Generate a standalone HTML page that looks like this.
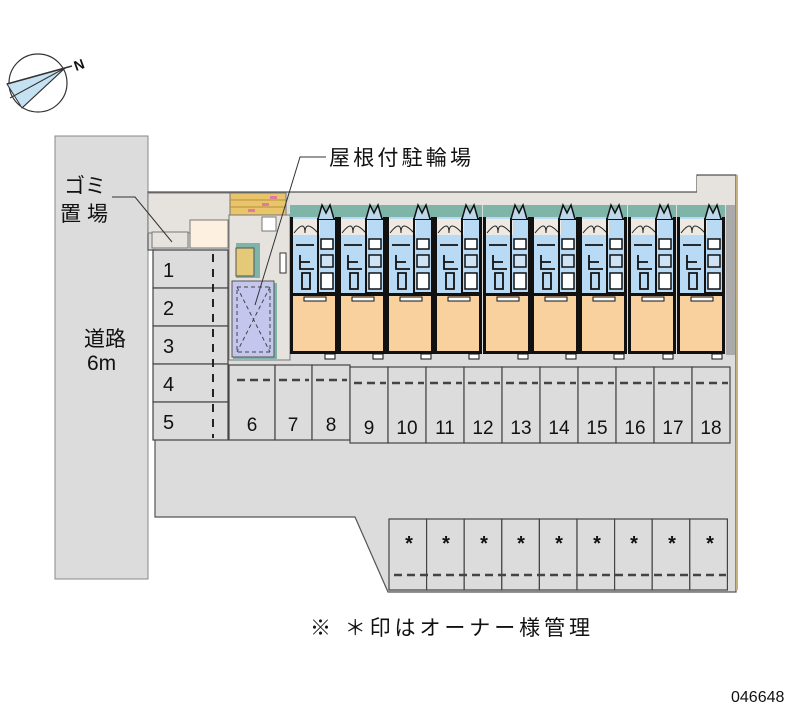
<!DOCTYPE html>
<html><head><meta charset="utf-8"><style>
html,body{margin:0;padding:0;background:#fff;}
svg{display:block;}
text{font-family:"Liberation Sans","Noto Sans CJK JP",sans-serif;fill:#111;}
</style></head><body>
<svg width="800" height="727" viewBox="0 0 800 727" xmlns="http://www.w3.org/2000/svg">
<defs>
<g id="unit">
  <rect x="0" y="0" width="48" height="12" fill="#7fb5a8"/>
  <rect x="0" y="12" width="48" height="80" fill="#b8daf5"/>
  <rect x="1" y="14" width="29" height="16" fill="#eeeae2"/>
  <path d="M4 28 Q15 14 15 28 Q15 14 28 28" fill="none" stroke="#222" stroke-width="1"/>
  <rect x="28" y="14" width="18" height="74" fill="none" stroke="#111" stroke-width="2"/>
  <rect x="31" y="34" width="12" height="10" fill="#fff" stroke="#111" stroke-width="1.5"/>
  <rect x="31" y="50" width="12" height="12" fill="#cfe3f5" stroke="#111" stroke-width="1.5"/>
  <rect x="31" y="68" width="12" height="16" fill="#fff" stroke="#111" stroke-width="1.5"/>
  <path d="M6 40 H24 M10 50 V64 H24 M10 57 H20 M12 68 H20 V84 H12 Z" stroke="#111" stroke-width="1.8" fill="none"/>
  <path d="M28 14 L32 0 L36 8 L40 0 L44 14" fill="#bcd8ea" stroke="#111" stroke-width="1.5"/>
  <rect x="0" y="88" width="48" height="3" fill="#111"/>
  <rect x="2" y="91" width="44" height="56" fill="#f9d19e"/>
  <rect x="14" y="92" width="22" height="4" fill="#fff" stroke="#111" stroke-width="1"/>
  <rect x="0" y="12" width="3" height="137" fill="#111"/>
  <rect x="45" y="12" width="3" height="137" fill="#111"/>
  <rect x="0" y="146" width="48" height="3" fill="#111"/>
  <rect x="35" y="149" width="10" height="5" fill="#fff" stroke="#111" stroke-width="1"/>
</g>
</defs>

<!-- compass -->
<circle cx="38" cy="83" r="29" fill="none" stroke="#333" stroke-width="1.2"/>
<polygon points="7,84 65,68 22,108" fill="#c5e2f3" stroke="#333" stroke-width="1"/>
<line x1="7" y1="84" x2="72" y2="66" stroke="#333" stroke-width="1.5"/>
<line x1="22" y1="108" x2="65" y2="68" stroke="#333"/>
<line x1="10" y1="98" x2="65" y2="68" stroke="#333"/>
<text x="74" y="70" font-size="14" font-weight="bold" transform="rotate(-20 78 65)">N</text>

<!-- road -->
<rect x="55" y="136" width="93" height="443" fill="#dcdcdc" stroke="#888" stroke-width="1"/>
<text x="84" y="346" font-size="21" textLength="42">道路</text>
<text x="87" y="370" font-size="21">6m</text>
<rect x="60" y="170" width="54" height="52" fill="#dcdcdc"/>
<text x="64" y="193" font-size="21">ゴミ</text>
<text x="60" y="221" font-size="21" textLength="48">置場</text>

<!-- lot -->
<polygon points="148,192 697,192 697,175 736,175 736,592 388,592 355,517 155,517 155,250 148,250" fill="#dcdcdc" stroke="#555" stroke-width="1.2"/>
<line x1="737" y1="175" x2="737" y2="590" stroke="#c9b080" stroke-width="2"/>
<rect x="148" y="193" width="82" height="40" fill="#e6e3de" stroke="#777" stroke-width="1"/>
<rect x="152" y="232" width="36" height="16" fill="#e6e3de" stroke="#777" stroke-width="1"/>
<rect x="190" y="220" width="38" height="28" fill="#fdf0e0" stroke="#777" stroke-width="1"/>
<rect x="229" y="215" width="61" height="145" fill="#e6e3de" stroke="#777" stroke-width="1"/>
<rect x="697" y="176" width="38" height="30" fill="#e6e3de"/>
<rect x="290" y="193" width="407" height="12" fill="#e6e3de"/>
<polyline points="112,197 135,197 172,242" fill="none" stroke="#333" stroke-width="1"/>

<!-- brick -->
<rect x="230" y="193" width="56" height="22" fill="#e8c46a" stroke="#777" stroke-width="1"/>
<path d="M230 200 H286 M230 207 H286" stroke="#b8903a" stroke-width="1"/>
<rect x="262" y="203" width="7" height="3" fill="#e07aa0"/><rect x="248" y="209" width="7" height="3" fill="#e07aa0"/><rect x="270" y="196" width="7" height="3" fill="#e07aa0"/>
<rect x="262" y="217" width="14" height="14" fill="#fff" stroke="#777"/>

<!-- bike -->
<rect x="236" y="243" width="24" height="35" fill="#7fb5a8"/>
<rect x="236" y="248" width="18" height="28" fill="#e4c978" stroke="#555" stroke-width="1"/>
<rect x="233" y="283" width="44" height="76" fill="#7fb5a8"/>
<rect x="232" y="281" width="42" height="76" fill="#c4c6ee" stroke="#555" stroke-width="1"/>
<path d="M237 287 H270 V352 H237 Z M237 287 L270 352 M270 287 L237 352" fill="none" stroke="#444" stroke-width="1" stroke-dasharray="4,3"/>
<rect x="280" y="253" width="6" height="20" fill="#fff" stroke="#333"/>

<!-- building -->
<g>
<use href="#unit" x="290" y="205"/>
<use href="#unit" x="338" y="205"/>
<use href="#unit" x="386" y="205"/>
<use href="#unit" x="434" y="205"/>
<use href="#unit" x="483" y="205"/>
<use href="#unit" x="531" y="205"/>
<use href="#unit" x="579" y="205"/>
<use href="#unit" x="628" y="205"/>
<use href="#unit" x="677" y="205"/>
</g>
<rect x="726" y="205" width="9" height="150" fill="#aaa"/>

<!-- label leader -->
<polyline points="326,157 300,157 255,305" fill="none" stroke="#333" stroke-width="1"/>
<text x="329" y="165" font-size="21" textLength="142">屋根付駐輪場</text>

<!-- slots 1-5 -->
<g fill="#dcdcdc" stroke="#444" stroke-width="1.2">
<rect x="153" y="250" width="75" height="38"/>
<rect x="153" y="288" width="75" height="38"/>
<rect x="153" y="326" width="75" height="38"/>
<rect x="153" y="364" width="75" height="38"/>
<rect x="153" y="402" width="75" height="38"/>
</g>
<line x1="213" y1="254" x2="213" y2="438" stroke="#222" stroke-width="2" stroke-dasharray="8,7"/>
<g font-size="20">
<text x="163" y="277">1</text><text x="163" y="315">2</text><text x="163" y="353">3</text><text x="163" y="391">4</text><text x="163" y="429">5</text>
</g>

<!-- slots 6-18 -->
<g fill="#dcdcdc" stroke="#444" stroke-width="1.2">
<rect x="229" y="365" width="46" height="75"/>
<rect x="275" y="365" width="37" height="75"/>
<rect x="312" y="365" width="38" height="75"/>
<rect x="350" y="367" width="38" height="76"/>
<rect x="388" y="367" width="38" height="76"/>
<rect x="426" y="367" width="38" height="76"/>
<rect x="464" y="367" width="38" height="76"/>
<rect x="502" y="367" width="38" height="76"/>
<rect x="540" y="367" width="38" height="76"/>
<rect x="578" y="367" width="38" height="76"/>
<rect x="616" y="367" width="38" height="76"/>
<rect x="654" y="367" width="38" height="76"/>
<rect x="692" y="367" width="38" height="76"/>
</g>
<g stroke="#444" stroke-width="2.5" stroke-dasharray="8,5">
<line x1="237" y1="380" x2="270" y2="380"/>
<line x1="279" y1="380" x2="309" y2="380"/>
<line x1="316" y1="380" x2="347" y2="380"/>
<line x1="354" y1="383" x2="386" y2="383"/>
<line x1="392" y1="383" x2="424" y2="383"/>
<line x1="430" y1="383" x2="462" y2="383"/>
<line x1="468" y1="383" x2="500" y2="383"/>
<line x1="506" y1="383" x2="538" y2="383"/>
<line x1="544" y1="383" x2="576" y2="383"/>
<line x1="582" y1="383" x2="614" y2="383"/>
<line x1="620" y1="383" x2="652" y2="383"/>
<line x1="658" y1="383" x2="690" y2="383"/>
<line x1="696" y1="383" x2="728" y2="383"/>
</g>
<g font-size="19" text-anchor="middle">
<text x="252" y="431">6</text><text x="293" y="431">7</text><text x="331" y="431">8</text>
<text x="369" y="434">9</text><text x="407" y="434">10</text><text x="445" y="434">11</text><text x="483" y="434">12</text><text x="521" y="434">13</text><text x="559" y="434">14</text><text x="597" y="434">15</text><text x="635" y="434">16</text><text x="673" y="434">17</text><text x="711" y="434">18</text>
</g>

<!-- bottom slots -->
<g fill="#dcdcdc" stroke="#444" stroke-width="1.2">
<rect x="389" y="519" width="37.6" height="71"/>
<rect x="426.6" y="519" width="37.6" height="71"/>
<rect x="464.2" y="519" width="37.6" height="71"/>
<rect x="501.8" y="519" width="37.6" height="71"/>
<rect x="539.4" y="519" width="37.6" height="71"/>
<rect x="577" y="519" width="37.6" height="71"/>
<rect x="614.6" y="519" width="37.6" height="71"/>
<rect x="652.2" y="519" width="37.6" height="71"/>
<rect x="689.8" y="519" width="37.6" height="71"/>
</g>
<line x1="394" y1="575" x2="726" y2="575" stroke="#444" stroke-width="2.5" stroke-dasharray="8,5"/>
<g font-size="20" font-weight="bold" text-anchor="middle">
<text x="409" y="550">*</text><text x="446" y="550">*</text><text x="484" y="550">*</text><text x="521" y="550">*</text><text x="559" y="550">*</text><text x="597" y="550">*</text><text x="634" y="550">*</text><text x="672" y="550">*</text><text x="710" y="550">*</text>
</g>

<text x="310" y="635" font-size="21" textLength="280">※ ＊印はオーナー様管理</text>
<text x="731" y="702" font-size="16">046648</text>
</svg>
</body></html>
